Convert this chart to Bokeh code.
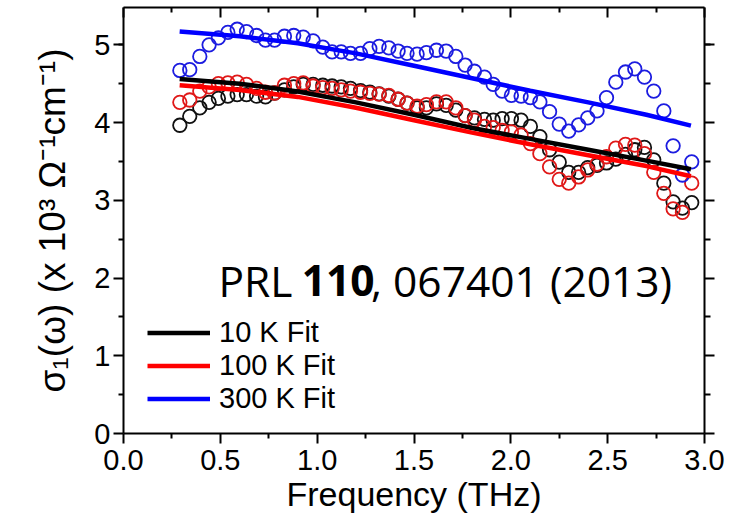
from bokeh.plotting import figure
from bokeh.models import (LinearAxis, Range1d, Legend, LegendItem, FixedTicker, Label)
from bokeh.embed import file_html
from bokeh.resources import INLINE

# ---------------- data ----------------
freq = [0.291, 0.342, 0.394, 0.442, 0.490, 0.539, 0.587, 0.635, 0.687, 0.733,
        0.780, 0.831, 0.879, 0.928, 0.979, 1.029, 1.077, 1.124, 1.172, 1.224,
        1.272, 1.320, 1.370, 1.418, 1.464, 1.516, 1.564, 1.616, 1.666, 1.716,
        1.764, 1.812, 1.864, 1.909, 1.955, 2.003, 2.053, 2.101, 2.150, 2.200,
        2.250, 2.299, 2.350, 2.397, 2.445, 2.494, 2.542, 2.592, 2.640, 2.690,
        2.738, 2.790, 2.838, 2.886, 2.934]

sigma_10K = [3.965, 4.08, 4.19, 4.26, 4.31, 4.34, 4.36, 4.36, 4.34, 4.33,
             4.38, 4.42, 4.46, 4.49, 4.49, 4.48, 4.47, 4.46, 4.44, 4.41,
             4.39, 4.37, 4.34, 4.30, 4.25, 4.19, 4.19, 4.24, 4.22, 4.16,
             4.09, 4.06, 4.04, 4.03, 4.05, 4.05, 4.03, 3.95, 3.82, 3.65,
             3.49, 3.36, 3.36, 3.42, 3.45, 3.48, 3.53, 3.59, 3.65, 3.68,
             3.52, 3.22, 2.98, 2.90, 2.97]

sigma_100K = [4.26, 4.29, 4.405, 4.46, 4.50, 4.51, 4.52, 4.49, 4.44, 4.39,
              4.38, 4.48, 4.50, 4.51, 4.47, 4.45, 4.44, 4.42, 4.405, 4.39,
              4.375, 4.365, 4.35, 4.30, 4.25, 4.21, 4.23, 4.265, 4.265, 4.19,
              4.09, 4.03, 3.95, 3.935, 3.90, 3.88, 3.84, 3.73, 3.60, 3.43,
              3.27, 3.22, 3.30, 3.39, 3.465, 3.56, 3.67, 3.72, 3.71, 3.60,
              3.36, 3.09, 2.89, 2.845, 3.22]

sigma_300K = [4.67, 4.68, 4.85, 5.00, 5.09, 5.16, 5.20, 5.17, 5.12, 5.06,
              5.06, 5.11, 5.12, 5.10, 5.05, 4.97, 4.91, 4.91, 4.89, 4.89,
              4.95, 4.98, 4.96, 4.92, 4.89, 4.88, 4.90, 4.93, 4.92, 4.85,
              4.74, 4.66, 4.585, 4.49, 4.405, 4.35, 4.34, 4.32, 4.265, 4.14,
              3.98, 3.89, 3.97, 4.06, 4.15, 4.32, 4.52, 4.65, 4.69, 4.585,
              4.405, 4.15, 3.70, 3.325, 3.495]

fit_freq = [0.29, 0.6, 0.9, 1.2, 1.5, 1.8, 2.1, 2.4, 2.7, 2.93]
fit_10K = [4.56, 4.50, 4.40, 4.26, 4.10, 3.93, 3.79, 3.65, 3.51, 3.40]
fit_100K = [4.48, 4.42, 4.33, 4.19, 4.03, 3.87, 3.72, 3.58, 3.44, 3.31]
fit_300K = [5.17, 5.11, 5.02, 4.89, 4.73, 4.57, 4.41, 4.26, 4.10, 3.96]

legend_labels = ["10 K Fit", "100 K Fit", "300 K Fit"]

x_ticks = [0.0, 0.5, 1.0, 1.5, 2.0, 2.5, 3.0]
x_tick_labels = ["0.0", "0.5", "1.0", "1.5", "2.0", "2.5", "3.0"]
x_minor = [0.25, 0.75, 1.25, 1.75, 2.25, 2.75]
y_ticks = [0, 1, 2, 3, 4, 5]
y_tick_labels = ["0", "1", "2", "3", "4", "5"]
y_minor = [0.5, 1.5, 2.5, 3.5, 4.5, 5.0]

ref_parts = ["PRL", "110", ", 067401 (2013)"]

# ---------------- figure ----------------
FONT = "Liberation Sans"

p = figure(width=736, height=515, x_range=Range1d(0, 3.0), y_range=Range1d(0, 5.48),
           output_backend="svg", toolbar_location=None,
           min_border_left=123, min_border_right=32, min_border_top=7,
           min_border_bottom=81)
p.xgrid.grid_line_color = None
p.ygrid.grid_line_color = None
p.outline_line_color = None
p.background_fill_color = "white"

xt = FixedTicker(ticks=x_ticks, minor_ticks=x_minor)
yt = FixedTicker(ticks=y_ticks, minor_ticks=y_minor)


def style(ax, tin, tout, mtin, mtout):
    ax.axis_line_width = 2
    ax.axis_line_color = "black"
    ax.major_tick_line_width = 2
    ax.minor_tick_line_width = 2
    ax.major_tick_line_color = "black"
    ax.minor_tick_line_color = "black"
    ax.major_tick_in = tin
    ax.major_tick_out = tout
    ax.minor_tick_in = mtin
    ax.minor_tick_out = mtout


xa = p.xaxis[0]
xa.ticker = xt
xa.major_label_overrides = dict(zip(x_ticks, x_tick_labels))
style(xa, 0, 10, 0, 5)
xa.major_label_text_font = FONT
xa.major_label_text_font_size = "29px"
xa.major_label_text_color = "black"
xa.major_label_standoff = 6
xa.axis_label = "Frequency (THz)"
xa.axis_label_text_font = FONT
xa.axis_label_text_font_size = "34px"
xa.axis_label_text_font_style = "normal"
xa.axis_label_text_color = "black"
xa.axis_label_standoff = 2

ya = p.yaxis[0]
ya.ticker = yt
ya.major_label_overrides = dict(zip(y_ticks, y_tick_labels))
style(ya, 0, 10, 0, 5)
ya.major_label_text_font = FONT
ya.major_label_text_font_size = "29px"
ya.major_label_text_color = "black"
ya.major_label_standoff = 3
ya.axis_label = "σ\u2081(ω) (x 10\u00b3 Ω\u207b\u00b9cm\u207b\u00b9)"
ya.axis_label_text_font = FONT
ya.axis_label_text_font_size = "37px"
ya.axis_label_text_font_style = "normal"
ya.axis_label_text_color = "black"
ya.axis_label_standoff = 18

top = LinearAxis(ticker=xt)
style(top, 10, 0, 5, 0)
top.major_label_text_color = None
top.major_label_text_font_size = "1px"
top.major_label_standoff = 0
p.add_layout(top, "above")

right = LinearAxis(ticker=yt)
style(right, 0, 10, 0, 6)
right.major_label_text_color = None
right.major_label_text_font_size = "1px"
right.major_label_standoff = 0
p.add_layout(right, "right")

# ---------------- data marks ----------------
p.scatter(freq, sigma_10K, marker="circle", size=13.5, fill_color=None,
          line_color="#111111", line_width=1.8)
p.scatter(freq, sigma_100K, marker="circle", size=13.5, fill_color=None,
          line_color="#e01818", line_width=1.8)
p.scatter(freq, sigma_300K, marker="circle", size=13.5, fill_color=None,
          line_color="#1c1ce0", line_width=1.8)

r1 = p.line(fit_freq, fit_10K, line_width=4.5, line_color="black")
r2 = p.line(fit_freq, fit_100K, line_width=4.5, line_color="red")
r3 = p.line(fit_freq, fit_300K, line_width=4.5, line_color="blue")

legend = Legend(items=[LegendItem(label=legend_labels[0], renderers=[r1]),
                       LegendItem(label=legend_labels[1], renderers=[r2]),
                       LegendItem(label=legend_labels[2], renderers=[r3])],
                location=(24, 18), glyph_width=63, glyph_height=33,
                label_height=33, spacing=0, padding=0, margin=0,
                border_line_color=None, background_fill_alpha=0,
                label_text_font=FONT, label_text_font_size="29px",
                label_text_color="black", label_standoff=9)
p.add_layout(legend)

# ---------------- reference annotation ----------------
ref_x = [0.49, 0.92, 1.278]
styles = ["normal", "bold", "normal"]
for txt, xx, st in zip(ref_parts, ref_x, styles):
    p.add_layout(Label(x=xx, y=1.97, text=txt,
                       text_font="Open Sans", text_font_size="42.5px",
                       text_font_style=st, text_baseline="alphabetic",
                       text_color="black"))

open("out.html", "w").write(file_html(p, INLINE))
